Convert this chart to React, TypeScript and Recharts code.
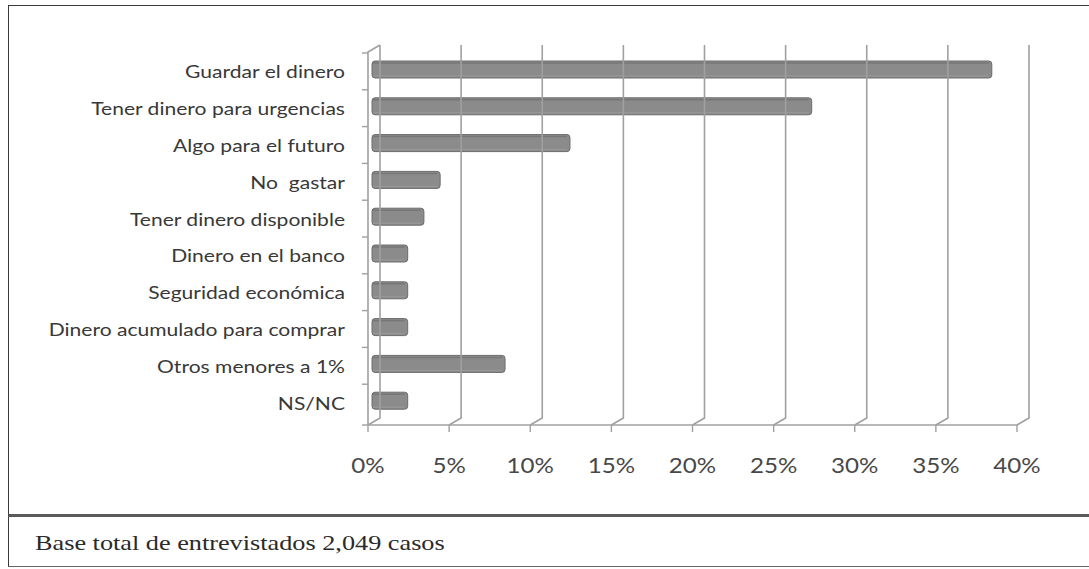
import React from "react";
import { BarChart, Bar, XAxis, YAxis, ReferenceLine } from "recharts";

// categories and values (% of respondents)
const categories = [
  "Guardar el dinero",
  "Tener dinero para urgencias",
  "Algo para el futuro",
  "No  gastar",
  "Tener dinero disponible",
  "Dinero en el banco",
  "Seguridad económica",
  "Dinero acumulado para comprar",
  "Otros menores a 1%",
  "NS/NC",
];
const values = [38.2, 27.1, 12.2, 4.2, 3.2, 2.2, 2.2, 2.2, 8.2, 2.2];
const xTicks = [0, 5, 10, 15, 20, 25, 30, 35, 40];
const footnote = "Base total de entrevistados 2,049 casos";

const data = categories.map((name, i) => ({ name, value: values[i] }));

// 3d depth of the excel style chart
const DX = 12;
const DY = 7;
// the scan is a bit stretched sideways
const SX = 1.24;
const FONT = "Lato, 'Open Sans', sans-serif";

const wallLine = (first: boolean) => (p: any) => {
  const { x1 } = p;
  const top = Math.min(p.y1, p.y2);
  const bot = Math.max(p.y1, p.y2);
  const x = x1;
  return (
    <g stroke="#a0a0a0" strokeWidth={1.6} fill="none">
      <path d={`M${x + DX},${top} L${x + DX},${bot - DY} L${x},${bot}`} />
      {first && <path d={`M${x + DX},${top} L${x},${top + DY} L${x},${bot}`} />}
    </g>
  );
};

const Bar3D = (p: any) => {
  const { x, y, width, height } = p;
  if (!width) return null;
  const bx = x + 4;
  return (
    <g>
      <rect x={bx} y={y} width={width} height={height} rx={3} fill="#8b8b8b" stroke="#6c6c6c" strokeWidth={1} />
      <line x1={bx + 1} y1={y + 2} x2={bx + width - 3} y2={y + 2} stroke="#777" strokeWidth={1.5} />
      <line x1={bx + 1} y1={y + height - 2} x2={bx + width - 3} y2={y + height - 2} stroke="#9a9a9a" strokeWidth={1} />
    </g>
  );
};

const CatTick = (p: any) => {
  const { x, y, payload, index } = p;
  const off = payload?.offset ?? 18.4;
  const last = index === categories.length - 1;
  return (
    <g>
      <line x1={x - 6} y1={y - off + 2} x2={x} y2={y - off + 2} stroke="#a0a0a0" strokeWidth={1.4} />
      {last && <line x1={x - 6} y1={y + off + 6} x2={x} y2={y + off + 6} stroke="#a0a0a0" strokeWidth={1.4} />}
      <text
        transform={`translate(${x - 23},${y + 3}) scale(${SX},1)`}
        dy="0.35em"
        textAnchor="end"
        fill="#383838"
        fontSize={17}
        fontFamily={FONT}
        style={{ whiteSpace: "pre" }}
      >
        {payload.value}
      </text>
    </g>
  );
};

const PctTick = (p: any) => {
  const { x, y, payload } = p;
  return (
    <text
      transform={`translate(${x},${y}) scale(1.15,1)`}
      dy="0.71em"
      textAnchor="middle"
      fill="#484848"
      fontSize={21}
      fontFamily={FONT}
    >
      {`${payload.value}%`}
    </text>
  );
};

export default function App() {
  return (
    <div style={{ position: "absolute", left: 0, top: 0, width: 1089, height: 569, overflow: "hidden", background: "#fff" }}>
      {/* marco del grafico */}
      <div
        style={{
          position: "absolute",
          left: 8,
          top: 5,
          width: 1100,
          height: 508,
          borderLeft: "1.5px solid #3a3a3a",
          borderTop: "1.5px solid #3a3a3a",
          borderBottom: "3px solid #5a5a5a",
        }}
      />
      {/* nota al pie */}
      <div
        style={{
          position: "absolute",
          left: 8,
          top: 517,
          width: 1100,
          height: 49,
          borderLeft: "1.5px solid #3a3a3a",
          borderBottom: "1.5px solid #666",
        }}
      >
        <span
          style={{
            position: "absolute",
            left: 26,
            top: 14,
            fontFamily: "'Liberation Serif', 'Times New Roman', serif",
            fontSize: 21,
            color: "#2a2a2a",
            whiteSpace: "nowrap",
            transform: "scaleX(1.25)",
            transformOrigin: "left center",
          }}
        >
          {footnote}
        </span>
      </div>

      <div style={{ position: "absolute", left: 0, top: 0 }}>
        <BarChart
          width={1089}
          height={569}
          data={data}
          layout="vertical"
          margin={{ top: 45, right: 72, left: 0, bottom: 114 }}
          barSize={17}
        >
          <XAxis
            type="number"
            domain={[0, 40]}
            ticks={xTicks}
            axisLine={{ stroke: "#a0a0a0", strokeWidth: 1.6 }}
            tickLine={{ stroke: "#a0a0a0", strokeWidth: 1.4 }}
            tickSize={7}
            tickMargin={26}
            height={30}
            tick={<PctTick />}
            interval={0}
          />
          <YAxis
            type="category"
            dataKey="name"
            width={368}
            axisLine={false}
            tickLine={false}
            tickSize={0}
            tickMargin={0}
            padding={{ top: 6, bottom: 6 }}
            tick={<CatTick />}
            interval={0}
          />
          {xTicks.map((t, i) => (
            <ReferenceLine key={t} x={t} ifOverflow="visible" shape={wallLine(i === 0)} />
          ))}
          <Bar dataKey="value" shape={<Bar3D />} isAnimationActive={false} />
        </BarChart>
      </div>
    </div>
  );
}
